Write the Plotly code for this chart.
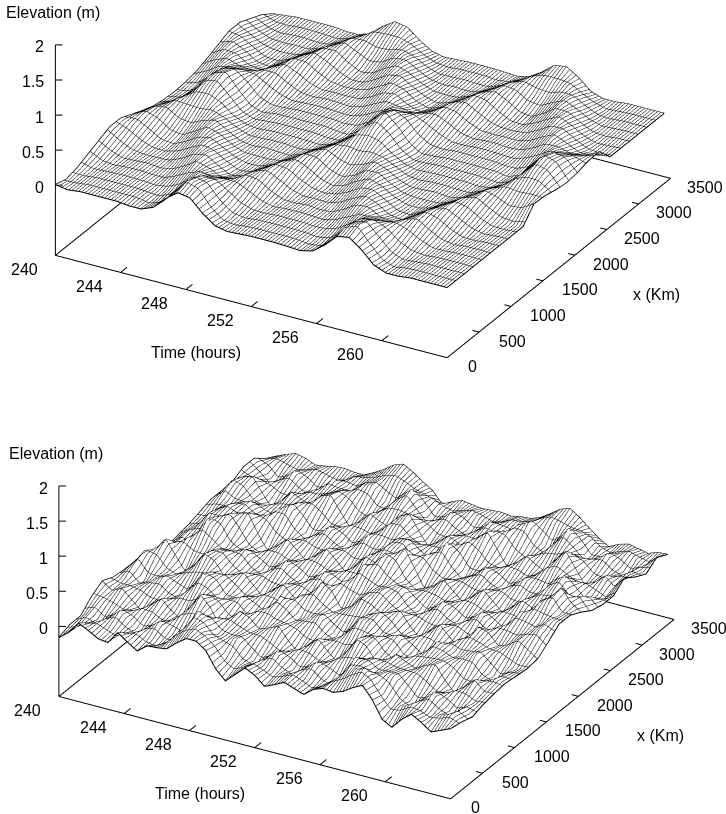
import plotly.graph_objects as go

x_km = [0,170,340,510,680,850,1020,1190,1360,1530,1700,1870,2040,2210,2380,2550,2720,2890,3060,3230,3400]
time_top = [240,240.75,241.5,242.25,243,243.75,244.5,245.25,246,246.75,247.5,248.25,249,249.75,250.5,251.25,252,252.75,253.5,254.25,255,255.75,256.5,257.25,258,258.75,259.5,260.25,261,261.75,262.5,263.25,264]
time_bottom = [240,240.6,241.2,241.8,242.4,243,243.6,244.2,244.8,245.4,246,246.6,247.2,247.8,248.4,249,249.6,250.2,250.8,251.4,252,252.6,253.2,253.8,254.4,255,255.6,256.2,256.8,257.4,258,258.6,259.2,259.8,260.4,261,261.6,262.2,262.8,263.4,264]

elevation_top = [
[.01,-.02,0,0,0,0,-.02,-.02,.05,.22,.35,.32,.15,.02,-.02,-.01,0,0,0,-.01,-.02,.02,.15,.32,.35,.22,.05,-.02,-.02,0,0,0,0],
[-.04,-.02,0,0,0,0,0,-.04,.02,.20,.42,.36,.13,-.01,-.03,0,0,0,0,0,-.03,-.01,.13,.36,.42,.20,.02,-.04,0,0,0,0,0],
[0,-.02,0,0,0,0,-.02,-.02,.05,.22,.35,.32,.15,.02,-.02,-.01,0,0,0,-.01,-.02,.02,.15,.32,.35,.22,.05,-.02,-.02,0,0,0,0],
[.07,-.01,-.02,0,0,-.01,-.02,.04,.13,.22,.21,.22,.19,.09,.01,-.02,0,0,0,-.02,.01,.09,.19,.22,.21,.22,.13,.04,-.02,-.01,0,0,0],
[.14,.04,-.02,-.01,0,-.02,.01,.10,.21,.16,.08,.10,.20,.18,.07,-.01,-.02,0,-.02,-.01,.07,.18,.20,.10,.08,.16,.21,.10,.01,-.02,0,0,0],
[.21,.10,.01,-.02,-.02,-.01,.07,.18,.21,.09,-.01,.02,.14,.22,.14,.04,-.02,-.02,-.02,.04,.14,.22,.14,.02,-.01,.09,.21,.18,.07,-.01,-.02,0,0],
[.21,.18,.07,-.02,-.03,.04,.14,.22,.14,.04,-.03,-.02,.07,.18,.21,.10,.01,-.04,.01,.10,.21,.18,.07,-.02,-.03,.04,.14,.22,.14,.04,-.02,-.01,0],
[.14,.22,.14,.02,-.01,.09,.21,.18,.07,-.01,-.02,-.02,.01,.10,.21,.18,.05,-.01,.05,.18,.21,.10,.01,-.02,-.02,-.01,.07,.18,.21,.10,.01,-.02,0],
[.07,.18,.21,.10,.08,.16,.21,.10,.01,-.02,0,-.01,-.02,.04,.14,.21,.12,.07,.12,.21,.14,.04,-.02,-.01,0,-.02,.01,.10,.21,.16,.08,.10,.20],
[.01,.10,.21,.22,.21,.22,.13,.04,-.02,-.01,0,0,-.02,-.01,.07,.16,.22,.20,.22,.16,.07,-.01,-.02,0,0,-.01,-.02,.04,.13,.22,.21,.22,.19],
[-.02,.02,.15,.32,.35,.22,.05,-.02,-.02,0,0,0,0,-.02,0,.10,.28,.36,.28,.10,0,-.02,0,0,0,0,-.02,-.02,.05,.22,.35,.32,.15],
[-.03,-.01,.13,.36,.42,.20,.02,-.04,0,0,0,0,0,-.02,-.04,.07,.28,.44,.28,.07,-.04,-.02,0,0,0,0,0,-.04,.02,.20,.42,.36,.13],
[-.02,.02,.15,.32,.35,.22,.05,-.02,-.02,0,0,0,0,-.02,0,.10,.28,.36,.28,.10,0,-.02,0,0,0,0,-.02,-.02,.05,.22,.35,.32,.15],
[.01,.10,.21,.22,.21,.22,.13,.04,-.02,-.01,0,0,-.02,-.01,.07,.16,.22,.20,.22,.16,.07,-.01,-.02,0,0,-.01,-.02,.04,.13,.22,.21,.22,.19],
[.07,.18,.21,.10,.08,.16,.21,.10,.01,-.02,0,-.01,-.02,.04,.14,.21,.12,.07,.12,.21,.14,.04,-.02,-.01,0,-.02,.01,.10,.21,.16,.08,.10,.20],
[.14,.22,.14,.02,-.01,.09,.21,.18,.07,-.01,-.02,-.02,.01,.10,.21,.18,.05,-.01,.05,.18,.21,.10,.01,-.02,-.02,-.01,.07,.18,.21,.10,.01,-.02,0],
[.21,.18,.07,-.02,-.03,.04,.14,.22,.14,.04,-.03,-.02,.07,.18,.21,.10,.01,-.04,.01,.10,.21,.18,.07,-.02,-.03,.04,.14,.22,.14,.04,-.02,-.01,0],
[.21,.10,.01,-.02,-.02,-.01,.07,.18,.21,.09,-.01,.02,.14,.22,.14,.04,-.02,-.02,-.02,.04,.14,.22,.14,.02,-.01,.09,.21,.18,.07,-.01,-.02,0,0],
[.14,.04,-.02,-.01,0,-.02,.01,.10,.21,.16,.08,.10,.20,.18,.07,-.01,-.02,0,-.02,-.01,.07,.18,.20,.10,.08,.16,.21,.10,.01,-.02,0,0,0],
[.07,-.01,-.02,0,0,-.01,-.02,.04,.13,.22,.21,.22,.19,.09,.01,-.02,0,0,0,-.02,.01,.09,.19,.22,.21,.22,.13,.04,-.02,-.01,0,0,0],
[-.04,-.02,0,0,0,0,-.02,-.02,.04,.19,.30,.27,.13,.02,-.02,-.01,0,0,0,-.01,-.02,.02,.13,.27,.30,.19,.04,-.02,-.02,0,0,0,0],
]

elevation_bottom = [
[-.16,-.05,.12,.05,-.03,-.05,.13,.03,-.06,.05,.06,.08,.20,.30,.30,.20,-.02,-.16,-.03,.10,.03,-.09,-.03,.04,-.01,-.06,.05,.10,.08,.13,.22,.29,.12,-.12,-.20,-.05,.06,-.02,-.12,-.06,0],
[-.10,-.07,0,.05,0,-.05,0,.05,-.02,-.07,.02,.19,.30,.35,.27,.16,0,-.07,-.02,.05,0,-.05,0,.05,0,-.07,-.02,.10,.19,.30,.38,.26,.07,-.07,-.02,.05,0,-.05,0,.05,-.03],
[-.10,-.01,-.14,0,.13,0,-.13,0,.12,-.01,-.09,.15,.41,.32,.14,.13,.17,-.02,-.14,0,.13,0,-.13,0,.12,-.01,-.13,.07,.33,.30,.18,.22,.22,.02,-.14,-.01,.13,0,-.13,0,-.08],
[.05,.05,-.01,-.05,0,.05,0,-.06,-.01,.10,.11,.14,.19,.23,.19,.13,.10,.09,-.01,-.06,0,.05,0,-.06,-.01,.06,.07,.10,.19,.23,.18,.15,.16,.13,.02,-.06,-.01,.05,0,-.05,-.03],
[.15,.05,.12,-.01,-.13,0,.12,-.01,-.10,.11,.32,.18,-.05,.06,.23,.18,.05,.10,.16,-.01,-.14,0,.13,-.01,-.13,.06,.27,.20,.01,.07,.20,.13,.07,.15,.20,.01,-.14,-.01,.13,0,0],
[.08,.06,.04,.04,-.01,-.06,-.01,.08,.10,.13,.19,.16,.03,-.07,.04,.17,.20,.12,.08,.07,-.01,-.06,-.01,.04,.05,.07,.20,.22,.07,-.05,0,.11,.15,.15,.14,.11,0,-.06,-.01,.05,.02],
[.06,.18,-.04,.03,.11,-.02,-.12,.08,.30,.20,-.01,.05,.12,-.02,-.13,.06,.27,.20,.02,.07,.14,-.02,-.15,.04,.24,.19,.05,.10,.16,-.02,-.15,.02,.21,.17,.07,.12,.18,-.01,-.14,0,0],
[.06,.25,.17,.03,.01,.05,.06,.10,.20,.19,.06,-.05,-.01,.04,-.01,-.04,.07,.20,.20,.09,.05,.04,.02,.05,.18,.24,.11,-.02,-.01,.04,-.01,-.06,.03,.15,.18,.14,.11,.09,-.01,-.06,-.02],
[.02,.14,.33,.14,-.06,.07,.26,.20,.02,.07,.14,-.01,-.14,0,.12,-.01,-.12,.08,.30,.20,-.02,.06,.20,.16,.07,.12,.18,-.01,-.14,0,.13,-.01,-.14,.04,.24,.19,.04,.09,.19,.10,0],
[-.08,.02,.15,.24,.18,.13,.20,.21,.08,-.04,-.01,.04,0,-.05,0,.04,-.01,-.03,.09,.22,.20,.13,.19,.24,.13,.01,0,.04,0,-.05,0,.05,-.01,-.06,.05,.16,.19,.14,.18,.24,.12],
[-.10,.01,-.06,.20,.43,.31,.09,.09,.15,-.01,-.14,0,.13,0,-.13,0,.12,-.01,-.11,.11,.37,.31,.17,.18,.19,0,-.14,-.01,.13,0,-.13,0,.13,-.01,-.14,.05,.28,.28,.19,.27,.25],
[-.06,.03,.05,.14,.35,.42,.21,.02,-.02,.03,0,-.05,0,.05,0,-.05,0,.03,-.02,.04,.24,.44,.33,.11,.03,.03,-.02,-.05,0,.05,0,-.05,0,.03,-.02,-.03,.14,.35,.40,.22,.25],
[-.03,.01,.20,.20,.17,.31,.35,.09,-.12,-.01,.12,0,-.13,0,.13,0,-.14,-.01,.16,.11,.11,.31,.43,.18,-.07,0,.12,-.01,-.13,0,.13,0,-.13,-.01,.12,.05,.02,.28,.45,.27,.17],
[.02,.02,.15,.24,.18,.13,.20,.21,.08,-.04,-.01,.04,0,-.05,0,.04,-.01,-.03,.09,.22,.20,.13,.19,.24,.13,.01,0,.04,0,-.05,0,.05,-.01,-.06,.05,.16,.19,.14,.18,.24,.07],
[.07,.14,.07,.14,.20,.07,0,.20,.28,.07,-.12,-.01,.12,0,-.14,-.01,.15,.08,.04,.20,.24,.06,-.06,.16,.33,.12,-.09,-.01,.12,0,-.13,-.01,.12,.04,-.03,.19,.30,.09,-.07,.10,.03],
[.07,.25,.17,.03,.01,.05,.06,.10,.20,.19,.06,-.05,-.01,.04,-.01,-.04,.07,.20,.20,.09,.05,.04,.02,.05,.18,.24,.11,-.02,-.01,.04,-.01,-.06,.03,.15,.18,.14,.11,.09,-.01,-.06,.03],
[.08,.18,.23,.03,-.15,-.02,.15,.08,.04,.20,.25,.05,-.14,-.02,.13,.06,.01,.20,.28,.07,-.12,-.02,.11,.04,-.03,.19,.31,.10,-.11,-.02,.11,.02,-.05,.17,.33,.12,-.09,-.01,.12,0,.16],
[.16,.06,.04,.04,-.01,-.06,-.01,.08,.10,.13,.19,.16,.03,-.07,.04,.17,.20,.12,.08,.07,-.01,-.06,-.01,.04,.05,.07,.20,.22,.07,-.05,0,.11,.15,.15,.14,.11,0,-.06,-.01,.05,.05],
[.16,.05,-.14,-.01,.13,0,-.14,-.01,.17,.11,.06,.18,.22,.06,-.04,.18,.31,.10,-.11,-.01,.12,0,-.13,-.01,.13,.06,.01,.20,.27,.07,-.07,.13,.33,.15,-.06,.01,.12,-.01,-.13,0,-.03],
[.03,.05,-.01,-.05,0,.05,0,-.06,-.01,.10,.11,.14,.19,.23,.19,.13,.10,.09,-.01,-.06,0,.05,0,-.06,-.01,.06,.07,.10,.19,.23,.18,.15,.16,.13,.02,-.06,-.01,.05,0,-.05,.08],
[-.06,0,.05,.02,-.04,-.02,.01,.02,0,0,.07,.15,.25,.30,.22,.12,.03,-.13,-.05,0,-.02,-.04,-.03,-.02,-.04,-.01,0,.05,.14,.24,.29,.20,.08,-.03,-.11,-.04,0,-.03,-.06,-.01,0],
]

time_axis_ticks = [244, 248, 252, 256, 260]
time_tick_labels = ['244', '248', '252', '256', '260']
x_axis_ticks = [0, 500, 1000, 1500, 2000, 2500, 3000, 3500]
x_tick_labels = ['0', '500', '1000', '1500', '2000', '2500', '3000', '3500']
z_axis_ticks = [0, 0.5, 1, 1.5, 2]
z_tick_labels = ['0', '0.5', '1', '1.5', '2']

FONT = dict(family='Liberation Sans', size=16, color='black')

def add_panel(fig, scene, times, z):
    fig.add_trace(go.Surface(x=times, y=x_km, z=z, scene=scene, showscale=False, cmin=-1, cmax=2,
        colorscale=[[0, 'white'], [1, 'white']], hoverinfo='skip',
        lighting=dict(ambient=1, diffuse=0, specular=0, roughness=1, fresnel=0),
        contours=dict(
            x=dict(show=True, start=240, end=264, size=0.2, color='black', width=3),
            y=dict(show=True, start=0, end=3400, size=136, color='black', width=3),
            z=dict(show=False))))
    def seg(xs, ys, zs, w=2):
        fig.add_trace(go.Scatter3d(x=xs, y=ys, z=zs, mode='lines', scene=scene, hoverinfo='skip',
                                   showlegend=False, line=dict(color='black', width=w)))
    t_stops = [240] + time_axis_ticks + [264]
    for a, b in zip(t_stops[:-1], t_stops[1:]):
        seg([a, b], [0, 0], [-1, -1])
        seg([a, b], [3500, 3500], [-1, -1])
    for a, b in zip(x_axis_ticks[:-1], x_axis_ticks[1:]):
        seg([264, 264], [a, b], [-1, -1])
        seg([240, 240], [a, b], [-1, -1])
    seg([240, 240], [0, 0], [-1, 0])
    for a, b in zip(z_axis_ticks[:-1], z_axis_ticks[1:]):
        seg([240, 240], [0, 0], [a, b])
    for t in time_axis_ticks:
        seg([t, t], [0, 100], [-1, -1])
    for v in x_axis_ticks:
        seg([264, 263.6], [v, v], [-1, -1])
    for v in z_axis_ticks:
        seg([240, 240.33], [0, 27], [v, v])
    n = len(times)
    step = 6
    for i in range(0, n - 1, step):
        k = min(i + step, n - 1) + 1
        seg(times[i:k], [x_km[0]] * (k - i), z[0][i:k])
        seg(times[i:k], [x_km[-1]] * (k - i), z[-1][i:k])
    for j in range(0, len(x_km) - 1, step):
        k = min(j + step, len(x_km) - 1) + 1
        seg([times[0]] * (k - j), x_km[j:k], [r[0] for r in z[j:k]])
        seg([times[-1]] * (k - j), x_km[j:k], [r[-1] for r in z[j:k]])

def scene_annotations():
    a = [dict(x=240, y=0, z=-1, text='240', showarrow=False, xshift=-31, yshift=-14, font=FONT)]
    for t, s in zip(time_axis_ticks, time_tick_labels):
        a.append(dict(x=t, y=0, z=-1, text=s, showarrow=False, xshift=-31, yshift=-14, font=FONT))
    for v, s in zip(x_axis_ticks, x_tick_labels):
        a.append(dict(x=264, y=v, z=-1, text=s, showarrow=False, xanchor='left', xshift=18.5 - 4 * v / 3500, yshift=-9, font=FONT))
    for v, s in zip(z_axis_ticks, z_tick_labels):
        a.append(dict(x=240, y=0, z=v, text=s, showarrow=False, xanchor='right', xshift=-9, yshift=-2, font=FONT))
    a.append(dict(x=252, y=0, z=-1, text='Time (hours)', showarrow=False, xshift=-55, yshift=-46, font=FONT))
    a.append(dict(x=264, y=1750, z=-1, text='x (Km)', showarrow=False, xshift=98, yshift=-26, font=FONT))
    return a

SCALE = 2.216
def make_scene(xdom, ydom, cz):
    off = dict(visible=False)
    d = 2.0
    return dict(domain=dict(x=xdom, y=ydom),
        xaxis=dict(off, range=[239.9, 264.1]), yaxis=dict(off, range=[-20, 3520]), zaxis=dict(off, range=[-1.02, 2.0]),
        aspectmode='manual',
        aspectratio=dict(x=SCALE * 24.2 / 24, y=SCALE * 3540 / 3500, z=0.525 * SCALE * 3.02 / 3),
        camera=dict(projection=dict(type='orthographic'), up=dict(x=0, y=0, z=1),
                    center=dict(x=0, y=0, z=cz),
                    eye=dict(x=d*0.4406, y=-d*0.7722, z=cz + d*0.458)),
        annotations=scene_annotations())

fig = go.Figure()
add_panel(fig, 'scene', time_top, elevation_top)
add_panel(fig, 'scene2', time_bottom, elevation_bottom)
fig.update_layout(width=726, height=814, margin=dict(l=0, r=0, t=0, b=0), paper_bgcolor='white', showlegend=False,
    scene=make_scene([0, 1], [0.5, 1], -0.504),
    scene2=make_scene([7/726, 1], [0, 0.5], -0.3155),
    annotations=[
        dict(xref='paper', yref='paper', x=4/726, y=1-12/814, text='Elevation (m)', showarrow=False,
             xanchor='left', yanchor='middle', font=FONT),
        dict(xref='paper', yref='paper', x=7/726, y=1-453/814, text='Elevation (m)', showarrow=False,
             xanchor='left', yanchor='middle', font=FONT)])
fig.write_html("out.html", post_script="document.body.style.margin='0';", config={'displayModeBar': False})
